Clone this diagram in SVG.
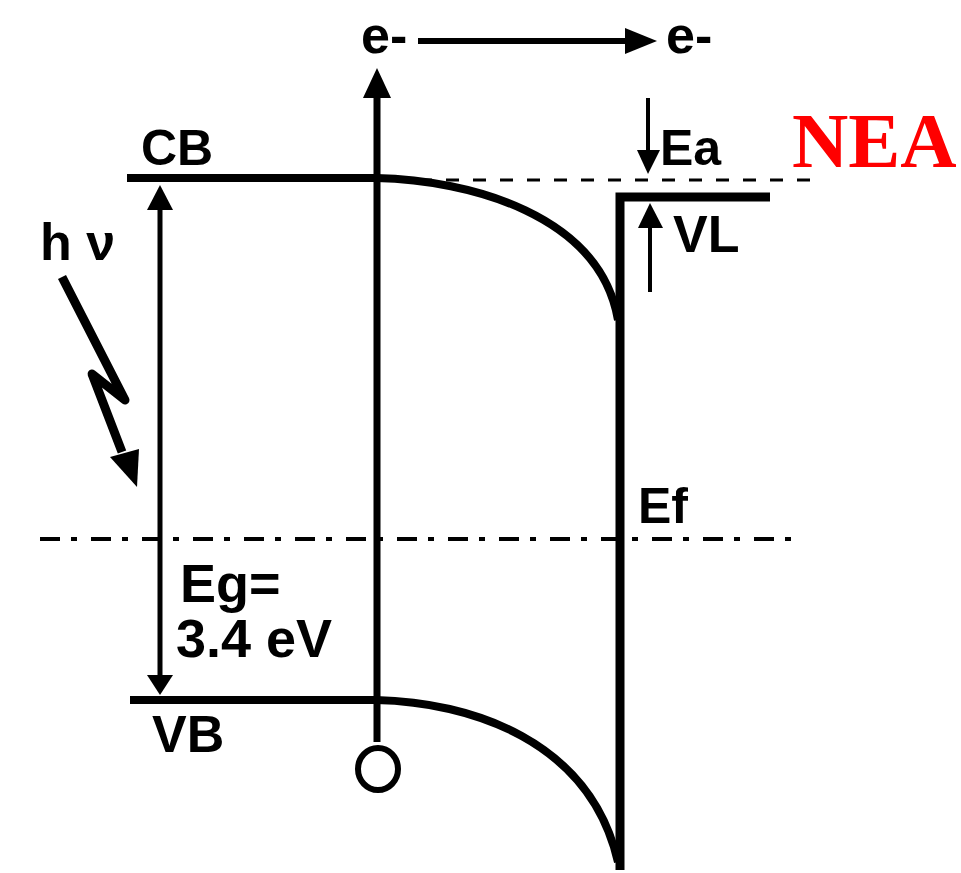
<svg xmlns="http://www.w3.org/2000/svg" width="961" height="873" viewBox="0 0 961 873">
<style>
.t{font-family:"Liberation Sans",Arial,sans-serif;font-weight:bold;fill:#000}
.ln{stroke:#000;fill:none}
</style>
<rect width="961" height="873" fill="#fff"/>
<g id="levels">
<line class="ln" x1="127" y1="178" x2="378" y2="178" stroke-width="8"/>
<path class="ln" d="M376,178 C470,180 600,215 618,320" stroke-width="8"/>
<line class="ln" x1="130" y1="700" x2="378" y2="700" stroke-width="8"/>
<path class="ln" d="M376,700 C470,702 590,740 618,862" stroke-width="8"/>
<polyline class="ln" points="620,870 620,197 770,197" stroke-width="9"/>
<line class="ln" x1="392" y1="180" x2="823" y2="180" stroke-width="3" stroke-dasharray="13,14"/>
<line class="ln" x1="40" y1="539" x2="800" y2="539" stroke-width="4" stroke-dasharray="20,11,6,14"/>
</g>
<g id="connectors">
<line class="ln" x1="377" y1="742" x2="377" y2="95" stroke-width="7"/>
<polygon points="377,68 363,98 391,98" fill="#000"/>
<line class="ln" x1="418" y1="41" x2="628" y2="41" stroke-width="6"/>
<polygon points="657,41 625,28 625,54" fill="#000"/>
<line class="ln" x1="160" y1="205" x2="160" y2="680" stroke-width="5"/>
<polygon points="160,185 147,210 173,210" fill="#000"/>
<polygon points="160,695 147,675 173,675" fill="#000"/>
<line class="ln" x1="648" y1="98" x2="648" y2="155" stroke-width="4"/>
<polygon points="648,174 637,150 660,150" fill="#000"/>
<line class="ln" x1="650" y1="292" x2="650" y2="222" stroke-width="4"/>
<polygon points="650,203 638,228 663,228" fill="#000"/>
<polyline class="ln" points="62,277 125,400 92,374 122,452" stroke-width="9" stroke-linejoin="round"/>
<polygon points="110,457 139,449 137,487" fill="#000"/>
<ellipse cx="378" cy="769" rx="20" ry="21" fill="none" stroke="#000" stroke-width="6"/>
</g>
<g id="labels">
<text class="t" x="141" y="165" font-size="50">CB</text>
<text class="t" x="152" y="752" font-size="52">VB</text>
<text class="t" x="660" y="165" font-size="50">Ea</text>
<text class="t" x="673" y="252" font-size="52">VL</text>
<text class="t" x="638" y="523" font-size="50">Ef</text>
<text class="t" x="180" y="602" font-size="54">Eg=</text>
<text class="t" x="176" y="657" font-size="54">3.4 eV</text>
<text class="t" x="40" y="260" font-size="52" font-weight="normal">h ν</text>
<text class="t" x="361" y="53" font-size="52">e-</text>
<text class="t" x="666" y="53" font-size="52">e-</text>
<text x="792" y="167" font-family="'Liberation Serif','Times New Roman',serif" font-weight="bold" font-size="78" fill="#f00">NEA</text>
</g>
</svg>
